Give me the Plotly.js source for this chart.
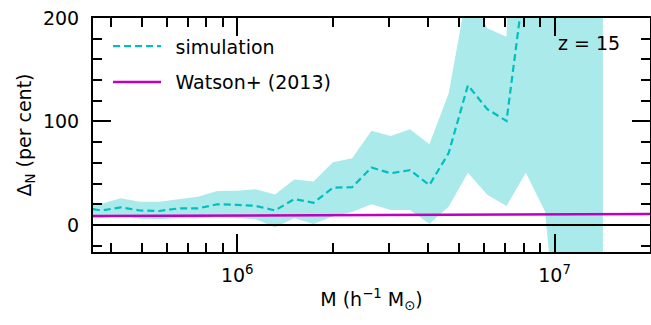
<!DOCTYPE html>
<html>
<head>
<meta charset="utf-8">
<script src="https://cdn.plot.ly/plotly-3.0.1.min.js"></script>
<style>
  html, body { margin: 0; padding: 0; background: #ffffff; }
  #chart { width: 651px; height: 325px; }
</style>
</head>
<body>
<div id="chart"></div>
<script>
// Halo mass bins (h^-1 Msun)
const massBins = [
  3.244e5, 3.731e5, 4.292e5, 4.937e5, 5.679e5, 6.533e5, 7.513e5, 8.643e5,
  9.940e5, 1.1434e6, 1.3152e6, 1.5129e6, 1.7403e6, 2.0018e6, 2.3027e6,
  2.6485e6, 3.0463e6, 3.5042e6, 4.0308e6, 4.6366e6, 5.3334e6, 6.1348e6,
  7.0568e6, 8.1173e6, 9.3325e6, 1.0735e7, 1.2348e7, 1.4204e7
];

// Simulated mass-function offset Delta_N (per cent)
const simDelta = [
  17, 14, 17, 14, 13.5, 16, 16, 20,
  19.5, 18.5, 14, 25, 21.5, 36, 36.5,
  55.5, 50, 53, 38.5, 69.5, 135, 112,
  100.5, 245, 290, 330, 380, 420
];

// Scatter envelope of the simulations
const simUpper = [
  23, 20.5, 25.8, 22.5, 22.5, 25, 27.4, 32.9,
  33, 34.5, 29.5, 44, 42, 60.6, 64.4,
  91, 86, 92.4, 78, 127, 230, 190,
  182, 800, 900, 1000, 1000, 1000
];
const simLower = [
  8.5, 6.4, 9, 6, 5.5, 6.4, 6.4, 7.4,
  6.8, 5.5, -2.3, 6.4, 1, 8.4, 12.5,
  20, 14.5, 14.5, 1.3, 17.7, 50.5, 29.3,
  18.4, 50.5, 13, -180, -250, -300
];

// Watson et al. (2013) fit
const watsonMass = [3e5, 1e6, 3e6, 1e7, 2e7];
const watsonDelta = [8.6, 9.2, 9.7, 10.3, 10.6];

// Axis ticks
const xTickVals = [1e6, 1e7];
const xTickText = ['10<sup>6</sup>', '10<sup>7</sup>'];
const xMinorVals = [4e5, 5e5, 6e5, 7e5, 8e5, 9e5, 2e6, 3e6, 4e6, 5e6, 6e6, 7e6, 8e6, 9e6, 2e7];
const yTickVals = [0, 100, 200];
const yMinorVals = [-20, 20, 40, 60, 80, 120, 140, 160, 180];

const CYAN = '#00bfbf';
const MAGENTA = '#bf00bf';
const FONT = 'DejaVu Sans, sans-serif';
const GAP = '\u2002';   // small lead-in between legend sample and label

const traces = [
  {
    x: massBins, y: simLower, type: 'scatter', mode: 'lines',
    line: {width: 0, color: CYAN}, showlegend: false, hoverinfo: 'skip'
  },
  {
    x: massBins, y: simUpper, type: 'scatter', mode: 'lines',
    line: {width: 0, color: CYAN}, fill: 'tonexty',
    fillcolor: 'rgba(0,191,191,0.33)', showlegend: false, hoverinfo: 'skip'
  },
  {
    x: watsonMass, y: watsonDelta, type: 'scatter', mode: 'lines',
    name: GAP + 'Watson+ (2013)', line: {color: MAGENTA, width: 2.5},
    legendgroup: 'w', legendrank: 2
  },
  {
    x: massBins, y: simDelta, type: 'scatter', mode: 'lines',
    name: GAP + 'simulation', line: {color: CYAN, width: 2.2, dash: '7px,4px'},
    legendgroup: 's', legendrank: 1
  }
];

const axisCommon = {
  showline: true, linecolor: 'black', linewidth: 2, mirror: 'ticks',
  ticks: 'inside', tickcolor: 'black', tickwidth: 2, ticklen: 18,
  showgrid: false, zeroline: false,
  tickfont: {family: FONT, size: 19, color: 'black'}
};

const layout = {
  width: 651, height: 325,
  margin: {l: 93, r: 1, t: 18, b: 73},
  paper_bgcolor: 'white', plot_bgcolor: 'white',
  font: {family: FONT, size: 19, color: 'black'},
  showlegend: true,
  legend: {
    x: 0.027, y: 0.96, xanchor: 'left', yanchor: 'top',
    bgcolor: 'rgba(0,0,0,0)', borderwidth: 0,
    font: {family: FONT, size: 19, color: 'black'},
    traceorder: 'grouped', tracegroupgap: 8,
    itemwidth: 48
  },
  xaxis: Object.assign({}, axisCommon, {
    type: 'log',
    range: [5.5455, 7.3008],
    tickmode: 'array', tickvals: xTickVals, ticktext: xTickText,
    ticklabelstandoff: 5,
    minor: {tickmode: 'array', tickvals: xMinorVals, ticks: 'inside',
            ticklen: 9, tickwidth: 2, tickcolor: 'black'},
    title: {text: 'M (h<sup>−1</sup> M<sub>⊙</sub>)',
            font: {family: FONT, size: 19, color: 'black'}, standoff: 8}
  }),
  yaxis: Object.assign({}, axisCommon, {
    range: [-26.1, 200],
    tickmode: 'array', tickvals: yTickVals,
    ticktext: yTickVals.map(String),
    ticklabelstandoff: 8,
    minor: {tickmode: 'array', tickvals: yMinorVals, ticks: 'inside',
            ticklen: 9, tickwidth: 2, tickcolor: 'black'},
    title: {text: 'Δ<sub>N</sub> (per cent)',
            font: {family: FONT, size: 19, color: 'black'}, standoff: 6}
  }),
  shapes: [
    {type: 'line', xref: 'paper', x0: 0, x1: 1, yref: 'y', y0: 0, y1: 0,
     line: {color: 'black', width: 2}, layer: 'above'}
  ],
  annotations: [
    {text: 'z = 15', xref: 'paper', yref: 'paper', x: 0.95, y: 0.893,
     xanchor: 'right', yanchor: 'middle', showarrow: false,
     font: {family: FONT, size: 19, color: 'black'}}
  ]
};

Plotly.newPlot('chart', traces, layout, {displayModeBar: false, staticPlot: true});
</script>
</body>
</html>
